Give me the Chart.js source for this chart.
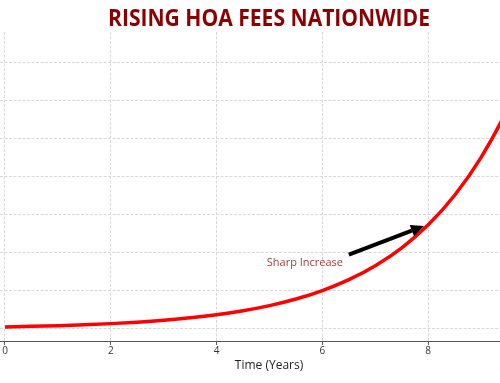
<!DOCTYPE html>
<html>
<head>
<meta charset="utf-8">
<script src="https://cdn.jsdelivr.net/npm/chart.js@4"></script>
<style>
  html, body { margin: 0; padding: 0; background: #fff; }
  #wrap { width: 500px; height: 383px; position: relative; }
</style>
</head>
<body>
<div id="wrap"><canvas id="hoaChart"></canvas></div>
<script>
// years and fee index
const years = [0, 0.5, 1, 1.5, 2, 2.5, 3, 3.5, 4, 4.5, 5, 5.5, 6, 6.5, 7, 7.5, 8, 8.5, 9, 9.5, 10];
const fees = [1.0, 1.28, 1.65, 2.12, 2.72, 3.49, 4.48, 5.75, 7.39, 9.49, 12.18, 15.64, 20.09, 25.79, 33.12, 42.52, 54.6, 70.11, 90.02, 115.58, 148.41];
const xTicks = [0, 2, 4, 6, 8];
const yTicks = [0, 20, 40, 60, 80, 100, 120, 140];

const chartTitle = 'RISING HOA FEES NATIONWIDE';
const xTitle = 'Time (Years)';
const noteText = 'Sharp Increase';
const noteFrom = { x: 6.5, y: 39 };
const noteTo = { x: 7.92, y: 54 };
const noteLabel = { x: 6.39, y: 34.7 };

const points = years.map((x, i) => ({ x: x, y: fees[i] }));

// titulo, eje y anotacion dibujados a mano
const extras = {
    id: 'extras',
    afterDraw(chart) {
        const ctx = chart.ctx;
        const xs = chart.scales.x, ys = chart.scales.y;
        const area = chart.chartArea;
        ctx.save();

        // linea del eje x (solida)
        ctx.strokeStyle = '#555';
        ctx.lineWidth = 1;
        ctx.beginPath();
        ctx.moveTo(area.left, area.bottom + 0.5);
        ctx.lineTo(area.right, area.bottom + 0.5);
        ctx.stroke();

        // titulo comprimido a lo ancho
        ctx.fillStyle = '#8b0000';
        ctx.font = 'bold 24px "Open Sans"';
        ctx.textAlign = 'center';
        ctx.textBaseline = 'middle';
        const w = ctx.measureText(chartTitle).width;
        ctx.save();
        ctx.translate(269, 19);
        ctx.scale(322 / w, 1);
        ctx.fillText(chartTitle, 0, 0);
        ctx.restore();

        // titulo del eje x
        ctx.fillStyle = '#222';
        ctx.font = '12px "Open Sans"';
        ctx.fillText(xTitle, 269, 366);

        // texto de la nota
        ctx.fillStyle = 'rgba(139,0,0,0.8)';
        ctx.font = '11px "Open Sans"';
        ctx.textAlign = 'right';
        ctx.fillText(noteText, xs.getPixelForValue(noteLabel.x), ys.getPixelForValue(noteLabel.y));

        // flecha
        const x1 = xs.getPixelForValue(noteFrom.x), y1 = ys.getPixelForValue(noteFrom.y);
        const x2 = xs.getPixelForValue(noteTo.x), y2 = ys.getPixelForValue(noteTo.y);
        const ang = Math.atan2(y2 - y1, x2 - x1);
        const headLen = 13, headW = 6;
        const bx = x2 - headLen * Math.cos(ang), by = y2 - headLen * Math.sin(ang);
        ctx.strokeStyle = '#000';
        ctx.lineWidth = 4;
        ctx.beginPath();
        ctx.moveTo(x1, y1);
        ctx.lineTo(bx, by);
        ctx.stroke();
        ctx.fillStyle = '#000';
        ctx.beginPath();
        ctx.moveTo(x2, y2);
        ctx.lineTo(bx + headW * Math.sin(ang), by - headW * Math.cos(ang));
        ctx.lineTo(bx - headW * Math.sin(ang), by + headW * Math.cos(ang));
        ctx.closePath();
        ctx.fill();
        ctx.restore();
    }
};

const ctx = document.getElementById('hoaChart').getContext('2d');
const hoaChart = new Chart(ctx, {
    type: 'line',
    data: {
        datasets: [{
            data: points,
            borderColor: '#ff0000',
            borderWidth: 3.5,
            pointRadius: 0,
            cubicInterpolationMode: 'monotone',
            fill: false
        }]
    },
    options: {
        responsive: true,
        maintainAspectRatio: false,
        animation: false,
        layout: { padding: { top: 32, left: 0, right: 0, bottom: 0 } },
        plugins: {
            legend: { display: false },
            tooltip: { enabled: false }
        },
        scales: {
            x: {
                type: 'linear',
                min: -0.0945,
                max: 9.357,
                afterBuildTicks: (scale) => { scale.ticks = xTicks.map(v => ({ value: v })); },
                afterFit: (scale) => { scale.height = 42; },
                ticks: {
                    color: '#333',
                    font: { family: 'Open Sans', size: 10 },
                    padding: 0,
                    maxRotation: 0
                },
                grid: {
                    color: '#d9d9d9',
                    borderDash: [3, 1.5],
                    tickLength: 4,
                    tickColor: '#555',
                    tickBorderDash: []
                },
                border: { display: false, dash: [3, 1.5] }
            },
            y: {
                min: -6.4,
                max: 155.8,
                afterBuildTicks: (scale) => { scale.ticks = yTicks.map(v => ({ value: v })); },
                afterFit: (scale) => { scale.width = 0; },
                ticks: { display: false },
                grid: {
                    color: '#d9d9d9',
                    borderDash: [3, 1.5],
                    drawTicks: false
                },
                border: { display: false, dash: [3, 1.5] }
            }
        }
    },
    plugins: [extras]
});
</script>
</body>
</html>
